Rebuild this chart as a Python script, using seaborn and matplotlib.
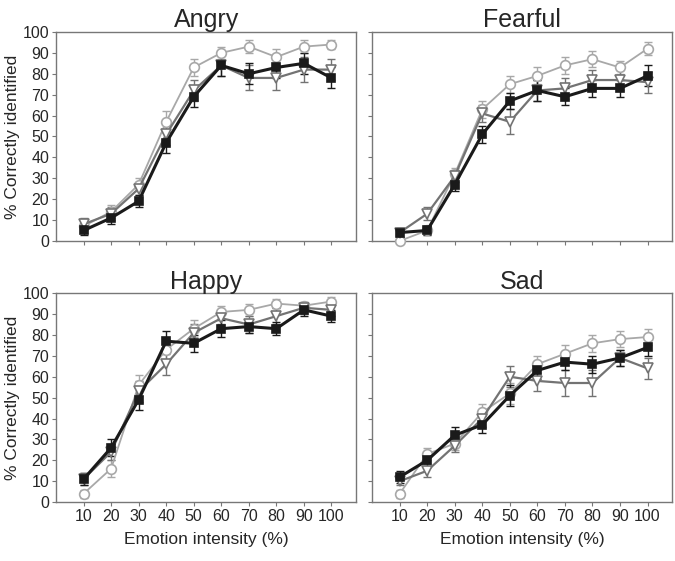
import matplotlib
matplotlib.use("Agg")
import matplotlib.pyplot as plt
import seaborn as sns
import pandas as pd

# emotion intensity levels (%)
intensity = [10, 20, 30, 40, 50, 60, 70, 80, 90, 100]
emotions = ["Angry", "Fearful", "Happy", "Sad"]

# mean % correctly identified, three groups per emotion
angry_sq = [5, 11, 19, 47, 69, 84, 80, 83, 85, 78]
angry_ci = [7, 14, 27, 57, 83, 90, 93, 88, 93, 94]
angry_tr = [8, 13, 25, 51, 72, 84, 78, 78, 82, 82]

fearful_sq = [4, 5, 27, 51, 67, 72, 69, 73, 73, 79]
fearful_ci = [0, 5, 32, 63, 75, 79, 84, 87, 83, 92]
fearful_tr = [4, 13, 31, 61, 57, 72, 73, 77, 77, 76]

happy_sq = [11, 26, 49, 77, 76, 83, 84, 83, 92, 89]
happy_ci = [4, 16, 56, 73, 83, 91, 92, 95, 94, 96]
happy_tr = [11, 24, 53, 66, 81, 88, 85, 89, 93, 92]

sad_sq = [12, 20, 32, 37, 51, 63, 67, 66, 69, 74]
sad_ci = [4, 23, 28, 43, 52, 66, 71, 76, 78, 79]
sad_tr = [10, 15, 27, 40, 60, 58, 57, 57, 69, 64]

# standard errors (approx.)
angry_sq_se = [2, 3, 3, 5, 5, 5, 5, 5, 5, 5]
angry_ci_se = [3, 3, 3, 5, 4, 3, 3, 4, 3, 2]
angry_tr_se = [3, 3, 3, 5, 5, 5, 6, 6, 6, 5]
fearful_sq_se = [2, 2, 3, 4, 4, 5, 4, 4, 4, 5]
fearful_ci_se = [1, 2, 3, 4, 4, 4, 4, 4, 3, 3]
fearful_tr_se = [2, 3, 3, 4, 6, 5, 5, 5, 5, 5]
happy_sq_se = [3, 4, 5, 5, 4, 4, 3, 3, 3, 3]
happy_ci_se = [2, 4, 5, 5, 4, 3, 3, 2, 2, 2]
happy_tr_se = [3, 4, 5, 5, 4, 3, 4, 4, 3, 3]
sad_sq_se = [3, 3, 4, 4, 5, 4, 4, 4, 4, 4]
sad_ci_se = [2, 3, 3, 4, 5, 4, 4, 4, 4, 4]
sad_tr_se = [2, 3, 3, 4, 5, 5, 6, 6, 4, 5]

groups = ["circle", "triangle", "square"]
values = {
    "Angry": [angry_ci, angry_tr, angry_sq],
    "Fearful": [fearful_ci, fearful_tr, fearful_sq],
    "Happy": [happy_ci, happy_tr, happy_sq],
    "Sad": [sad_ci, sad_tr, sad_sq],
}
errors = {
    "Angry": [angry_ci_se, angry_tr_se, angry_sq_se],
    "Fearful": [fearful_ci_se, fearful_tr_se, fearful_sq_se],
    "Happy": [happy_ci_se, happy_tr_se, happy_sq_se],
    "Sad": [sad_ci_se, sad_tr_se, sad_sq_se],
}

colors = {"circle": "#a8a8a8", "triangle": "#737373", "square": "#1a1a1a"}
markers = {"circle": "o", "triangle": "v", "square": "s"}
lws = {"circle": 1.3, "triangle": 1.6, "square": 2.2}
faces = {"circle": "white", "triangle": "white", "square": "#1a1a1a"}
msizes = {"circle": 7, "triangle": 7, "square": 6}

sns.set_style("white")
plt.rcParams['font.family'] = ['Liberation Sans', 'DejaVu Sans']

fig, axes = plt.subplots(2, 2, figsize=(6.75, 5.61), dpi=100)
plt.subplots_adjust(left=0.083, right=0.996, top=0.943, bottom=0.105,
                    wspace=0.053, hspace=0.25)

for ax, emo in zip(axes.flat, emotions):
    for g, vals, se in zip(groups, values[emo], errors[emo]):
        df = pd.DataFrame({"Intensity": intensity, "Score": vals})
        ax.errorbar(intensity, vals, yerr=se, fmt="none", ecolor=colors[g],
                    elinewidth=1.0, capsize=3, capthick=1.0, zorder=2)
        sns.lineplot(data=df, x="Intensity", y="Score", ax=ax, color=colors[g],
                     linewidth=lws[g], marker=markers[g], markersize=msizes[g],
                     markerfacecolor=faces[g], markeredgecolor=colors[g],
                     markeredgewidth=1.2, zorder=3, clip_on=False)
    ax.set_xlim(0, 109)
    ax.set_ylim(0, 100)
    ax.set_xticks(intensity)
    ax.set_yticks(range(0, 101, 10))
    ax.set_title(emo, fontsize=18, pad=3)
    ax.set_xlabel("")
    ax.set_ylabel("")
    for s in ax.spines.values():
        s.set_color("#777777")
        s.set_linewidth(1.0)
    ax.tick_params(axis="both", direction="out", length=3, color="#777777",
                   labelsize=11.5, pad=2, left=True, bottom=True)
    if emo in ("Angry", "Fearful"):
        ax.set_xticklabels([])
    if emo in ("Fearful", "Sad"):
        ax.set_yticklabels([])
    else:
        ax.set_ylabel("% Correctly identified", fontsize=12.5, labelpad=2)
    if emo in ("Happy", "Sad"):
        ax.set_xlabel("Emotion intensity (%)", fontsize=12.5, labelpad=6)

fig.savefig("out.png", dpi=100)
